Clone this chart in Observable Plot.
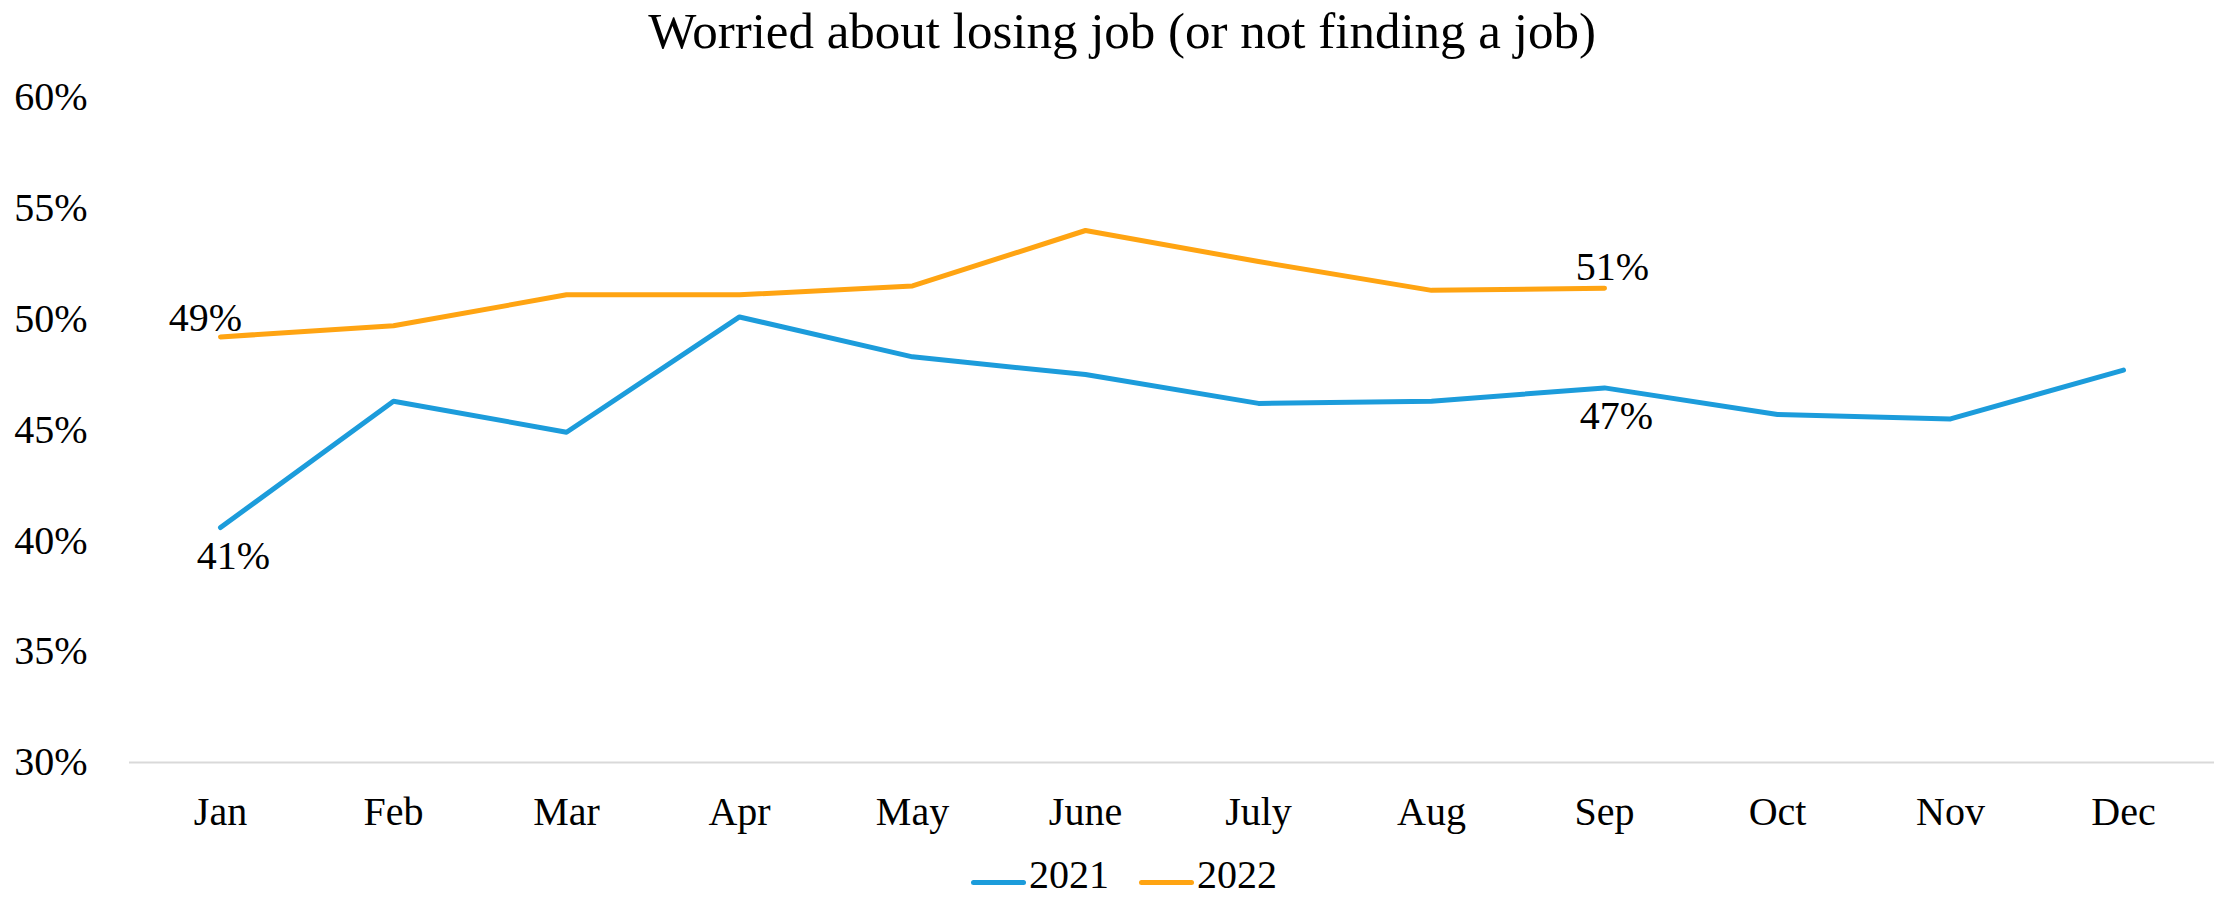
<!DOCTYPE html>
<html>
<head>
<meta charset="utf-8">
<script src="https://cdn.jsdelivr.net/npm/d3@7"></script>
<script src="https://cdn.jsdelivr.net/npm/@observablehq/plot@0.6"></script>
<style>
  html, body { margin: 0; padding: 0; background: #fff; }
  #wrap { position: relative; width: 2216px; height: 898px; overflow: hidden; font-family: "Liberation Serif", "Times New Roman", serif; color: #000; }
  #title { position: absolute; left: 0; top: 0; width: 2216px; height: 62px; line-height: 62px; text-align: center; font-size: 51px; padding-left: 28px; box-sizing: border-box; white-space: nowrap; }
  #chart { position: absolute; left: 0; top: 62px; }
  #chart svg, #chart svg text { font-family: "Liberation Serif", "Times New Roman", serif !important; }
  #legend { position: absolute; left: 0; top: 855px; width: 2216px; height: 40px; display: flex; justify-content: center; align-items: center; padding-left: 32px; box-sizing: border-box; font-size: 40px; line-height: 40px; }
  .item { display: flex; align-items: center; margin: 0 15px; height: 40px; }
  .sw { width: 55px; height: 5px; border-radius: 3px; margin-right: 3px; position: relative; top: 7px; }
</style>
</head>
<body>
<div id="wrap">
  <div id="title"></div>
  <div id="chart"></div>
  <div id="legend"></div>
</div>
<script>
const titleText = "Worried about losing job (or not finding a job)";
const months = ["Jan","Feb","Mar","Apr","May","June","July","Aug","Sep","Oct","Nov","Dec"];
const seriesNames = ["2021","2022"];
const values2021 = [40.6, 46.3, 44.9, 50.1, 48.3, 47.5, 46.2, 46.3, 46.9, 45.7, 45.5, 47.7];
const values2022 = [49.2, 49.7, 51.1, 51.1, 51.5, 54.0, 52.6, 51.3, 51.4];
const yTicks = [30, 35, 40, 45, 50, 55, 60];
const colors = ["#1C9CDB", "#FFA412"];

const rows = [];
values2021.forEach((v, i) => rows.push({series: "2021", month: months[i], value: v}));
values2022.forEach((v, i) => rows.push({series: "2022", month: months[i], value: v}));

const pick = (s, m) => rows.filter(d => d.series === s && d.month === m);
const fmt = d => Math.round(d.value) + "%";

document.getElementById("title").textContent = titleText;

const chart = Plot.plot({
  width: 2216,
  height: 796,
  marginTop: 35,
  marginBottom: 96,
  marginLeft: 129,
  marginRight: 2,
  style: {fontFamily: "Liberation Serif, Times New Roman, serif", fontSize: "40px", color: "#000", background: "#fff", overflow: "visible"},
  x: {type: "point", domain: months, padding: 0.5, label: null},
  y: {domain: [30, 60], label: null},
  color: {domain: seriesNames, range: colors},
  marks: [
    Plot.ruleY([30], {stroke: "#d9d9d9", strokeWidth: 2}),
    Plot.axisY({ticks: yTicks, tickFormat: d => d + "%", tickSize: 0, tickPadding: 42, label: null, fill: "#000"}),
    Plot.axisX({tickSize: 0, tickPadding: 34, label: null, fill: "#000"}),
    Plot.line(rows, {x: "month", y: "value", z: "series", stroke: "series", strokeWidth: 5, strokeLinecap: "round", strokeLinejoin: "round"}),
    Plot.text(pick("2021", "Jan"), {x: "month", y: "value", text: fmt, dx: 13, dy: 29, fill: "#000"}),
    Plot.text(pick("2021", "Sep"), {x: "month", y: "value", text: fmt, dx: 12, dy: 28, fill: "#000"}),
    Plot.text(pick("2022", "Jan"), {x: "month", y: "value", text: fmt, dx: -15, dy: -19, fill: "#000"}),
    Plot.text(pick("2022", "Sep"), {x: "month", y: "value", text: fmt, dx: 8, dy: -21, fill: "#000"})
  ]
});
document.getElementById("chart").appendChild(chart);

const legend = document.getElementById("legend");
seriesNames.forEach((s, i) => {
  const item = document.createElement("div");
  item.className = "item";
  const sw = document.createElement("div");
  sw.className = "sw";
  sw.style.background = colors[i];
  const t = document.createElement("span");
  t.textContent = s;
  item.appendChild(sw);
  item.appendChild(t);
  legend.appendChild(item);
});
</script>
</body>
</html>
